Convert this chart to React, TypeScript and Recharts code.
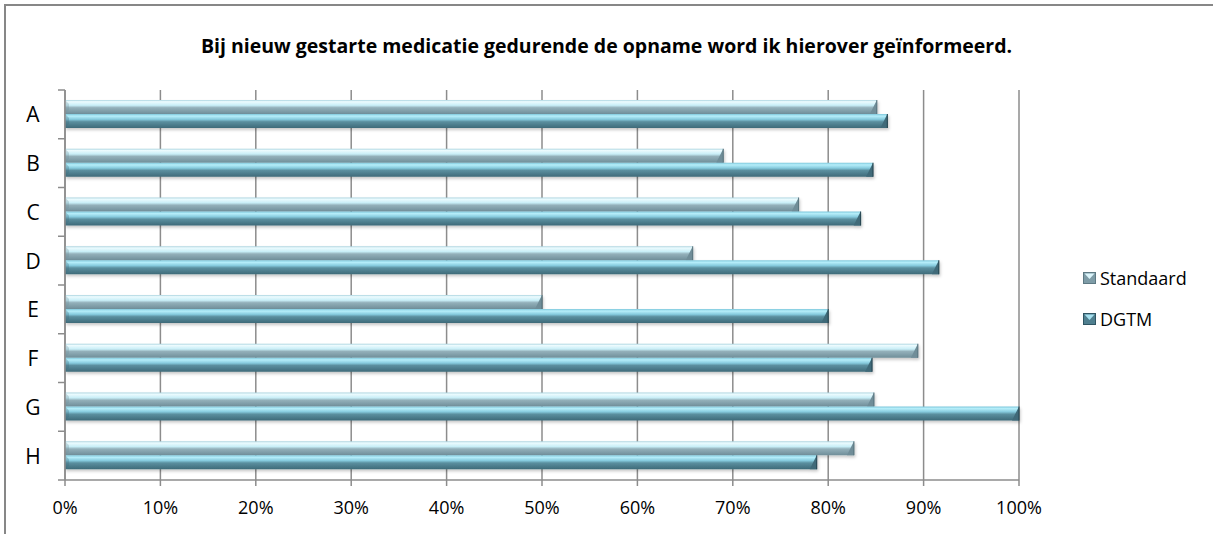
import React from "react";
import { Bar, BarChart, CartesianGrid, XAxis, YAxis } from "recharts";

const categories = ["A", "B", "C", "D", "E", "F", "G", "H"];
const standaard = [85.1, 69.0, 76.9, 65.8, 50.0, 89.4, 84.8, 82.7];
const dgtm = [86.2, 84.7, 83.4, 91.6, 80.0, 84.6, 100, 78.8];
const xTicks = [0, 10, 20, 30, 40, 50, 60, 70, 80, 90, 100];
const seriesNames = ["Standaard", "DGTM"];

const TITLE = "Bij nieuw gestarte medicatie gedurende de opname word ik hierover geïnformeerd.";
const FONT = "'Open Sans', 'Noto Sans', sans-serif";
const GRID = "#8c8c8c";

const PLOT_TOP = 90;
const PLOT_BOTTOM = 480;
const PLOT_LEFT = 65;
const PLOT_RIGHT = 1019;
const WIDTH = 1213;
const HEIGHT = 534;
const BAND = (PLOT_BOTTOM - PLOT_TOP) / categories.length;

const data = categories.map((c, i) => ({ cat: c, Standaard: standaard[i], DGTM: dgtm[i] }));

// cylinder-ish bar with a bevelled end, like the old Office 3D bars
function makeShape(gradId: string, endFill: string, edge: string) {
  return (props: any) => {
    const { x, y, width, height } = props;
    if (!width || width <= 0) return <g />;
    const b = Math.min(7, width);
    const x2 = x + width;
    return (
      <g filter="url(#barShadow)">
        <rect x={x} y={y} width={width} height={height} fill={`url(#${gradId})`} />
        <polygon
          points={`${x2 - b},${y + height} ${x2},${y} ${x2},${y + height}`}
          fill={endFill}
        />
        <line x1={x2} y1={y} x2={x2} y2={y + height} stroke={edge} strokeWidth={1} />
        <polygon points={`${x},${y} ${x + 4},${y + 4} ${x + 4},${y + height - 4} ${x},${y + height}`} fill={endFill} opacity={0.3} />
      </g>
    );
  };
}

const standaardShape = makeShape("gradStd", "#6f8d98", "#55707a");
const dgtmShape = makeShape("gradDgtm", "#3f6a79", "#23414c");

function CategoryTick(props: any) {
  const { y, payload, index } = props;
  const top = y - BAND / 2;
  return (
    <g>
      <line x1={PLOT_LEFT - 7} y1={top} x2={PLOT_LEFT} y2={top} stroke={GRID} strokeWidth={1.5} />
      {index === categories.length - 1 && (
        <line x1={PLOT_LEFT - 7} y1={top + BAND} x2={PLOT_LEFT} y2={top + BAND} stroke={GRID} strokeWidth={1.5} />
      )}
      <text x={33} y={y} textAnchor="middle" dominantBaseline="central" fontSize={21} fontFamily={FONT} fill="#000">
        {payload.value}
      </text>
    </g>
  );
}

const legendColors = [
  { top: "#dcf5fb", bottom: "#7e9ca7", edge: "#5d7983" },
  { top: "#a6e0ef", bottom: "#4f7f8f", edge: "#2f5563" },
];

function LegendBox({ top, bottom, edge }: { top: string; bottom: string; edge: string }) {
  return (
    <svg width={13} height={12} style={{ display: "block", marginRight: 4 }}>
      <rect x={0} y={0} width={13} height={12} fill={bottom} />
      <polygon points="1.5,1.5 11.5,1.5 6.5,7" fill={top} />
      <rect x={0.5} y={0.5} width={12} height={11} fill="none" stroke={edge} />
    </svg>
  );
}

export default function App() {
  return (
    <div style={{ position: "fixed", left: 0, top: 0, width: WIDTH, height: HEIGHT, background: "#fff", overflow: "hidden" }}>
      <div style={{ position: "absolute", left: 4, top: 4, width: WIDTH, height: HEIGHT, borderTop: "2px solid #878787", borderLeft: "2px solid #878787" }} />
      <div
        style={{
          position: "absolute",
          left: 0,
          width: WIDTH,
          top: 33,
          textAlign: "center",
          fontFamily: FONT,
          fontWeight: 700,
          fontSize: 19.5,
          lineHeight: "26px",
          color: "#000",
        }}
      >
        {TITLE}
      </div>
      <div style={{ position: "absolute", left: 0, top: 0 }}>
        <BarChart
          width={WIDTH}
          height={HEIGHT}
          data={data}
          layout="vertical"
          barGap={0}
          margin={{ top: PLOT_TOP, right: WIDTH - PLOT_RIGHT, bottom: 0, left: 5 }}
        >
          <defs>
            <linearGradient id="gradStd" x1="0" y1="0" x2="0" y2="1">
              <stop offset="0%" stopColor="#a9d3df" />
              <stop offset="12%" stopColor="#ecfbfe" />
              <stop offset="38%" stopColor="#c8eef7" />
              <stop offset="55%" stopColor="#93b0ba" />
              <stop offset="100%" stopColor="#6f8e99" />
            </linearGradient>
            <linearGradient id="gradDgtm" x1="0" y1="0" x2="0" y2="1">
              <stop offset="0%" stopColor="#7fc8dc" />
              <stop offset="15%" stopColor="#b6eefa" />
              <stop offset="38%" stopColor="#86cbde" />
              <stop offset="55%" stopColor="#5b8f9f" />
              <stop offset="100%" stopColor="#3e6a79" />
            </linearGradient>
            <filter id="barShadow" x="-5%" y="-30%" width="110%" height="180%">
              <feDropShadow dx={1} dy={2} stdDeviation={1.5} floodColor="#000" floodOpacity={0.22} />
            </filter>
          </defs>
          <CartesianGrid horizontal={false} stroke={GRID} strokeWidth={1.5} />
          <XAxis
            type="number"
            domain={[0, 100]}
            ticks={xTicks}
            interval={0}
            height={HEIGHT - PLOT_BOTTOM}
            axisLine={{ stroke: GRID, strokeWidth: 1.5 }}
            tickLine={{ stroke: GRID, strokeWidth: 1.5 }}
            tickSize={6}
            tickMargin={15}
            tick={{ fill: "#000", fontSize: 18, fontFamily: FONT }}
            tickFormatter={(v) => `${v}%`}
          />
          <YAxis
            type="category"
            dataKey="cat"
            width={PLOT_LEFT - 5}
            axisLine={{ stroke: GRID, strokeWidth: 1.5 }}
            tickLine={false}
            tick={<CategoryTick />}
            interval={0}
          />
          <Bar dataKey="Standaard" barSize={14} shape={standaardShape} isAnimationActive={false} />
          <Bar dataKey="DGTM" barSize={14} shape={dgtmShape} isAnimationActive={false} />
        </BarChart>
      </div>
      <div style={{ position: "absolute", left: 1083, top: 264, fontFamily: FONT, fontSize: 18, color: "#000" }}>
        {seriesNames.map((name, i) => (
          <div key={name} style={{ display: "flex", alignItems: "center", height: 28, marginBottom: 13 }}>
            <LegendBox {...legendColors[i]} />
            <span>{name}</span>
          </div>
        ))}
      </div>
    </div>
  );
}
